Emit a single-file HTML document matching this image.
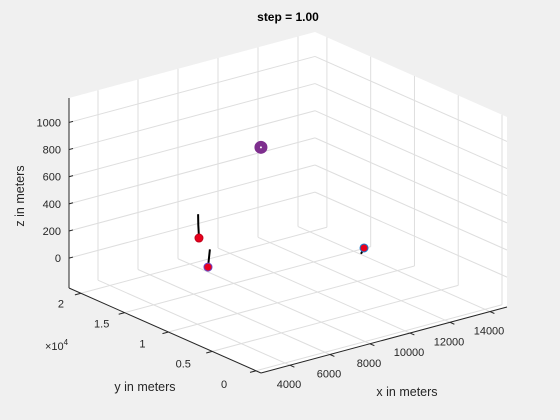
<!DOCTYPE html>
<html><head><meta charset="utf-8"><style>
html,body{margin:0;padding:0;background:#f0f0f0;}
svg{display:block;font-family:"Liberation Sans",Arial,sans-serif;}
</style></head><body>
<svg id="chart" width="560" height="420" viewBox="0 0 560 420" xmlns="http://www.w3.org/2000/svg">
<rect width="560" height="420" fill="#f0f0f0"/>
<text x="288" y="21" text-anchor="middle" font-size="12" font-weight="bold" fill="#000">step = 1.00</text>
<text transform="translate(24,196) rotate(-90)" text-anchor="middle" font-size="12.5" fill="#262626">z in meters</text>
<text x="145" y="391" text-anchor="middle" font-size="12.5" fill="#262626">y in meters</text>
<text x="407" y="396" text-anchor="middle" font-size="12.5" fill="#262626">x in meters</text>
<text x="45" y="350" font-size="11" fill="#262626">×10<tspan font-size="8" dy="-5">4</tspan></text>
<g id="layer"></g>
</svg>
<script>
const xTicks=[4000,6000,8000,10000,12000,14000];
const yTicks=[0,5000,10000,15000,20000];
const yTickLabels=["0","0.5","1","1.5","2"];
const zTicks=[0,200,400,600,800,1000];
const xRange=[2550,14850], yRange=[-570,21360], zRange=[-220,1180];
// trajectories: [x,y,z]
const trackAx=[6127,6136,6169], trackAy=[14781,14781,14781], trackAz=[370,290,193];
const trackBx=[3837,3790,3739], trackBy=[8202,8202,8202], trackBz=[389,330,263];
const trackCx=[8511,8661], trackCy=[1623,1623], trackCz=[360,397];
const targetX=[7347], targetY=[10395], targetZ=[940];

const NS="http://www.w3.org/2000/svg";
const L=document.getElementById('layer');
function P(x,y,z){
  const u=(x-xRange[0])/(xRange[1]-xRange[0]);
  const v=(y-yRange[0])/(yRange[1]-yRange[0]);
  const w=(z-zRange[0])/(zRange[1]-zRange[0]);
  return [261+246*u-192*v, 373-66*u-85*v-190*w];
}
function el(t,a){const e=document.createElementNS(NS,t);for(const k in a)e.setAttribute(k,a[k]);L.appendChild(e);return e;}
function line(a,b,stroke,w){return el('line',{x1:a[0],y1:a[1],x2:b[0],y2:b[1],stroke:stroke,'stroke-width':w});}
const X0=xRange[0],X1=xRange[1],Y0=yRange[0],Y1=yRange[1],Z0=zRange[0],Z1=zRange[1];
const pts=[P(X0,Y0,Z0),P(X1,Y0,Z0),P(X1,Y0,Z1),P(X1,Y1,Z1),P(X0,Y1,Z1),P(X0,Y1,Z0)];
let pane=el('polygon',{points:pts.map(p=>p.join(',')).join(' '),fill:'#fff'});


const G='#dedede';
xTicks.forEach(x=>{
  let g=line(P(x,Y0,Z0),P(x,Y1,Z0),G,1);
  
  g=line(P(x,Y1,Z0),P(x,Y1,Z1),G,1);
  
});
yTicks.forEach(y=>{
  let g=line(P(X0,y,Z0),P(X1,y,Z0),G,1);
  
  g=line(P(X1,y,Z0),P(X1,y,Z1),G,1);
  
});
zTicks.forEach(z=>{
  let g=line(P(X0,Y1,z),P(X1,Y1,z),G,1);
  
  g=line(P(X1,Y1,z),P(X1,Y0,z),G,1);
  
});
const A='#262626';
let ax=line(P(X0,Y0,Z0),P(X1,Y0,Z0),A,1);
ax=line(P(X0,Y0,Z0),P(X0,Y1,Z0),A,1);
ax=line(P(X0,Y1,Z0),P(X0,Y1,Z1),A,1);
function txt(s,x,y,anchor,name){const t=el('text',{x:x,y:y,'text-anchor':anchor,'font-size':'11',fill:A});t.textContent=s;
  return t;}
xTicks.forEach(x=>{
  const a=P(x,Y0,Z0),b=P(x,Y0-500,Z0);line(a,b,A,1);
  txt(String(x),a[0]-1,a[1]+23,'middle','x-tick-label');
});
yTicks.forEach((y,i)=>{
  const a=P(X0,y,Z0),b=P(X0-300,y,Z0);line(a,b,A,1);
  txt(yTickLabels[i],a[0]-32+3*i,a[1]+17-0.75*i,'middle','y-tick-label');
});
zTicks.forEach(z=>{
  const a=P(X0,Y1,z),b=P(X0+200,Y1,z);line(a,b,A,1);
  txt(String(z),a[0]-8,a[1]+4,'end','z-tick-label');
});
function track(xs,ys,zs,name){
  const d=xs.map((x,i)=>{const p=P(x,ys[i],zs[i]);return (i?'L':'M')+p[0].toFixed(1)+' '+p[1].toFixed(1);}).join(' ');
  const t=el('path',{d:d,fill:'none',stroke:'#000','stroke-width':2});
  
}
function dot(x,y,z,r,fill,stroke,name){
  const p=P(x,y,z);const c=el('circle',{cx:p[0],cy:p[1],r:r,fill:fill,stroke:stroke,'stroke-width':1});
  
}
track(trackAx,trackAy,trackAz,'trajectory-a');
track(trackBx,trackBy,trackBz,'trajectory-b');
track(trackCx,trackCy,trackCz,'trajectory-c');
dot(trackAx[2],trackAy[2],trackAz[2],4,'#e8001c','#c0001a','object-a');
dot(trackBx[2],trackBy[2],trackBz[2],4,'#e8001c','#6a3fc0','object-b');
dot(trackCx[1],trackCy[1],trackCz[1],4,'#e8001c','#1a7fd0','object-c');
dot(targetX[0],targetY[0],targetZ[0],6,'#7e2f8e','#7e2f8e','target');
const tp=P(targetX[0],targetY[0],targetZ[0]);
let c=el('circle',{cx:tp[0],cy:tp[1],r:1,fill:'#fff'});

</script>
</body></html>
